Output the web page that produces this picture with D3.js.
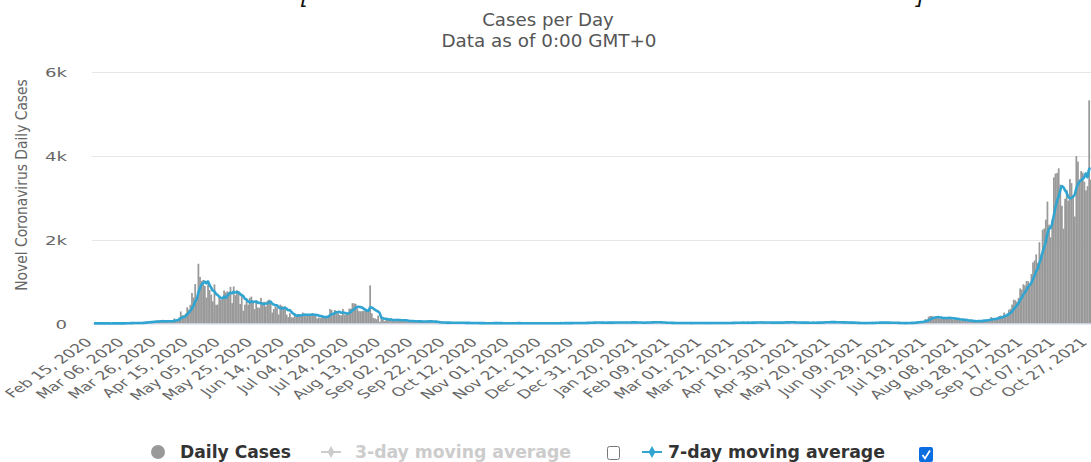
<!DOCTYPE html>
<html>
<head>
<meta charset="utf-8">
<script src="https://cdn.jsdelivr.net/npm/d3@7"></script>
<style>
  html, body { margin: 0; padding: 0; background: #fff; overflow: hidden; }
  svg { display: block; }
  .narrow { font-family: "Liberation Sans Narrow", "DejaVu Sans", sans-serif; font-stretch: condensed; }
</style>
</head>
<body>
<svg id="chart" width="1091" height="462"></svg>
<script>
// first day of the series, one value per day after it
const startDay = "2020-02-15";

const cases2020 = [
  // Feb 15-29
  5, 3, 2, 4, 3, 1, 1, 3, 3, 1, 1, 2, 3, 2, 4,
  // Mar
  4, 2, 2, 2, 7, 13, 8, 12, 16, 6, 12, 9, 13, 12, 14, 17, 23, 47, 32, 40, 47, 23, 54, 49, 73, 52, 49, 70, 42, 35, 47,
  // Apr
  74, 49, 65, 75, 120, 66, 106, 142, 287, 198, 191, 233, 386, 334, 447, 728, 623, 942, 596, 1426, 1111, 1016, 1037, 897, 618, 931, 799, 690, 528, 932,
  // May
  447, 452, 657, 573, 632, 788, 741, 768, 753, 876, 486, 884, 675, 793, 752, 465, 682, 305, 451, 570, 448, 614, 642, 548, 344, 533, 383, 373, 611, 506, 518,
  // Jun
  408, 544, 569, 516, 261, 347, 407, 386, 218, 451, 422, 347, 407, 214, 151, 247, 151, 142, 218, 191, 218, 218, 191, 262, 191, 170, 213, 213, 213, 246,
  // Jul
  215, 185, 119, 144, 126, 183, 157, 179, 183, 191, 347, 322, 214, 322, 281, 248, 202, 195, 348, 211, 215, 240, 354, 354, 485, 481, 469, 359, 296, 290, 295,
  // Aug
  307, 301, 313, 307, 908, 242, 132, 121, 102, 188, 42, 188, 93, 58, 95, 86, 75, 93, 91, 75, 50, 116, 87, 61, 58, 93, 49, 56, 47, 58, 60,
  // Sep
  45, 55, 52, 45, 40, 54, 49, 43, 36, 74, 58, 54, 30, 27, 31, 24, 22, 18, 27, 15, 19, 22, 21, 18, 12, 20, 16, 15, 15, 27,
  // Oct
  21, 10, 9, 3, 19, 10, 10, 11, 12, 10, 6, 9, 9, 7, 8, 5, 4, 6, 13, 8, 12, 9, 4, 13, 6, 3, 7, 3, 2, 8, 6,
  // Nov
  18, 5, 3, 8, 7, 8, 5, 3, 10, 4, 10, 9, 6, 5, 3, 3, 10, 6, 8, 5, 5, 3, 9, 4, 7, 9, 6, 3, 6, 12,
  // Dec
  11, 8, 6, 9, 9, 8, 7, 9, 18, 12, 14, 6, 10, 9, 10, 17, 18, 27, 19, 16, 18, 22, 25, 29, 28, 17, 15, 14, 11, 23, 35
];

const cases2021 = [
  // Jan
  29, 18, 19, 18, 17, 29, 29, 26, 17, 20, 28, 23, 22, 26, 45, 25, 17, 25, 19, 19, 20, 22, 13, 36, 34, 27, 26, 33, 31, 32, 22,
  // Feb
  29, 26, 18, 11, 19, 10, 17, 21, 15, 7, 7, 11, 16, 14, 8, 10, 11, 10, 10, 10, 9, 12, 15, 8, 13, 7, 8, 13,
  // Mar
  10, 10, 12, 10, 10, 11, 17, 10, 17, 18, 12, 10, 11, 13, 14, 11, 24, 12, 14, 24, 16, 17, 23, 20, 24, 19, 10, 28, 15, 16, 27,
  // Apr
  37, 18, 24, 23, 29, 26, 17, 15, 27, 19, 26, 15, 19, 18, 21, 24, 18, 25, 23, 30, 39, 24, 31, 25, 34, 17, 16, 23, 18, 25,
  // May
  17, 25, 21, 16, 17, 16, 19, 29, 19, 20, 27, 14, 21, 24, 52, 38, 32, 30, 27, 30, 25, 41, 32, 24, 21, 23, 16, 33, 27, 14, 18,
  // Jun
  18, 21, 14, 12, 6, 8, 11, 14, 6, 20, 13, 14, 16, 14, 13, 22, 27, 27, 23, 28, 10, 17, 22, 14, 29, 13, 22, 11, 14, 7,
  // Jul
  6, 9, 15, 8, 8, 20, 15, 18, 19, 16, 28, 56, 44, 42, 46, 47, 108, 88, 163, 182, 179, 162, 130, 128, 132, 117, 136, 122, 150, 135, 139,
  // Aug
  133, 110, 98, 98, 95, 116, 97, 66, 93, 71, 69, 54, 43, 80, 62, 47, 45, 56, 59, 68, 65, 92, 89, 64, 94, 97, 153, 113, 133, 94, 156,
  // Sep
  180, 187, 180, 260, 210, 235, 328, 349, 450, 568, 555, 520, 607, 837, 807, 935, 910, 1012, 1009, 917, 1178, 1457, 1504, 1650, 1443, 1939, 1647, 2236, 2268, 2478,
  // Oct 1-28
  2909, 2356, 2057, 2475, 3486, 3577, 3590, 3703, 3310, 2809, 2263, 2976, 3190, 2932, 3445, 3348, 3058, 2553, 3994, 3862, 3439, 3637, 3598, 3383, 3174, 3277, 5324, 3432
];

const tickLabels = [
  "Feb 15, 2020", "Mar 06, 2020", "Mar 26, 2020", "Apr 15, 2020", "May 05, 2020", "May 25, 2020",
  "Jun 14, 2020", "Jul 04, 2020", "Jul 24, 2020", "Aug 13, 2020", "Sep 02, 2020", "Sep 22, 2020",
  "Oct 12, 2020", "Nov 01, 2020", "Nov 21, 2020", "Dec 11, 2020", "Dec 31, 2020", "Jan 20, 2021",
  "Feb 09, 2021", "Mar 01, 2021", "Mar 21, 2021", "Apr 10, 2021", "Apr 30, 2021", "May 20, 2021",
  "Jun 09, 2021", "Jun 29, 2021", "Jul 19, 2021", "Aug 08, 2021", "Aug 28, 2021", "Sep 17, 2021",
  "Oct 07, 2021", "Oct 27, 2021"
];

const yTicks = [0, 2000, 4000, 6000];
const yTickLabels = ["0", "2k", "4k", "6k"];

const legendItems = ["Daily Cases", "3-day moving average", "7-day moving average"];

const barColor = "#999999";
const lineColor = "#31a5d1";

// the picture is wider than it is tall in its text, so glyphs get a horizontal stretch
const stretch = 1.45;

const svg = d3.select("#chart");
const parseDay = d3.timeParse("%Y-%m-%d");
const parseTick = d3.timeParse("%b %d, %Y");
const fmtKey = d3.timeFormat("%Y-%m-%d");

const daily = cases2020.concat(cases2021);
const first = parseDay(startDay);
const days = d3.timeDay.range(first, d3.timeDay.offset(first, daily.length));
const data = days.map((d, i) => ({ date: d, key: fmtKey(d), value: daily[i] }));

// trailing 7-day mean of the daily counts
data.forEach((d, i) => {
  const win = daily.slice(Math.max(0, i - 6), i + 1);
  d.avg7 = d3.mean(win);
});

const plotLeft = 93.2, plotRight = 93.2 + 1.605 * data.length;
const plotTop = 72, plotBottom = 323.5;

const x = d3.scaleBand()
  .domain(data.map(d => d.key))
  .range([plotLeft, plotRight])
  .paddingInner(0)
  .paddingOuter(0);

const y = d3.scaleLinear()
  .domain([0, 6000])
  .range([plotBottom, plotTop]);

// top clipped fragments of text above the chart
svg.append("text").attr("x", 300).attr("y", 4)
  .style("font-family", "DejaVu Sans").style("font-style", "italic").style("font-size", "22px")
  .attr("fill", "#111").text("[");
svg.append("text").attr("x", 916).attr("y", 4)
  .style("font-family", "DejaVu Sans").style("font-style", "italic").style("font-size", "22px")
  .attr("fill", "#111").text("]");

// titles
svg.append("text")
  .attr("class", "narrow")
  .attr("transform", "translate(548, 26) scale(1.19, 1)")
  .attr("text-anchor", "middle")
  .style("font-size", "17px")
  .attr("fill", "#555")
  .text("Cases per Day");

svg.append("text")
  .attr("class", "narrow")
  .attr("transform", "translate(549, 47) scale(1.2, 1)")
  .attr("text-anchor", "middle")
  .style("font-size", "17px")
  .attr("fill", "#555")
  .text("Data as of 0:00 GMT+0");

// grid
svg.append("g")
  .selectAll("line")
  .data(yTicks.filter(t => t > 0))
  .enter().append("line")
  .attr("x1", plotLeft - 1).attr("x2", 1091)
  .attr("y1", d => Math.round(y(d)) + 0.5).attr("y2", d => Math.round(y(d)) + 0.5)
  .attr("stroke", "#e6e6e6").attr("stroke-width", 1);

// y labels
svg.append("g")
  .selectAll("text")
  .data(yTicks)
  .enter().append("text")
  .attr("transform", d => `translate(67, ${y(d) + 5}) scale(${stretch}, 1)`)
  .attr("text-anchor", "end")
  .style("font-family", "DejaVu Sans")
  .style("font-size", "12.5px")
  .attr("fill", "#666")
  .text((d, i) => yTickLabels[i]);

svg.append("text")
  .attr("transform", `translate(27, 185) scale(1.08, 1) rotate(-90)`)
  .attr("text-anchor", "middle")
  .style("font-family", "DejaVu Sans")
  .style("font-size", "15.4px")
  .style("font-stretch", "condensed")
  .attr("fill", "#666")
  .text("Novel Coronavirus Daily Cases");

// bars
svg.append("g")
  .selectAll("rect")
  .data(data)
  .enter().append("rect")
  .attr("x", d => x(d.key))
  .attr("width", x.bandwidth() + 0.15)
  .attr("y", d => y(d.value))
  .attr("height", d => plotBottom - y(d.value))
  .attr("fill", barColor);

// axis line
svg.append("line")
  .attr("x1", plotLeft - 1).attr("x2", 1091)
  .attr("y1", 324).attr("y2", 324)
  .attr("stroke", "#ccd6eb").attr("stroke-width", 1.2);

// 7-day average line
const line = d3.line()
  .x(d => x(d.key) + x.bandwidth() / 2)
  .y(d => y(d.avg7))
  .curve(d3.curveMonotoneX);

svg.append("path")
  .datum(data)
  .attr("d", line)
  .attr("fill", "none")
  .attr("stroke", lineColor)
  .attr("stroke-width", 2.6)
  .attr("stroke-linejoin", "round");

// x labels
svg.append("g")
  .selectAll("text")
  .data(tickLabels)
  .enter().append("text")
  .attr("transform", d => {
    const k = fmtKey(parseTick(d));
    const tx = x(k) + x.bandwidth() / 2;
    return `translate(${tx - 1}, 343) scale(${stretch}, 1) rotate(-45)`;
  })
  .attr("text-anchor", "end")
  .style("font-family", "DejaVu Sans")
  .style("font-size", "12px")
  .attr("fill", "#666")
  .text(d => d);

// legend
const lg = svg.append("g").attr("class", "narrow");
const ly = 452;

lg.append("circle").attr("cx", 158).attr("cy", ly).attr("r", 7).attr("fill", barColor);
lg.append("text").attr("transform", `translate(180, ${ly + 6}) scale(1.06, 1)`)
  .style("font-size", "18px").style("font-weight", "bold").attr("fill", "#333")
  .text(legendItems[0]);

lg.append("line").attr("x1", 321).attr("x2", 341).attr("y1", ly).attr("y2", ly)
  .attr("stroke", "#cccccc").attr("stroke-width", 2);
lg.append("path").attr("d", d3.symbol(d3.symbolDiamond, 40)())
  .attr("transform", `translate(331, ${ly})`).attr("fill", "#cccccc");
lg.append("text").attr("transform", `translate(355, ${ly + 6}) scale(1.065, 1)`)
  .style("font-size", "18px").style("font-weight", "bold").attr("fill", "#cccccc")
  .text(legendItems[1]);

lg.append("rect").attr("x", 607.5).attr("y", 446.5).attr("width", 12).attr("height", 13).attr("rx", 2)
  .attr("fill", "#fff").attr("stroke", "#767676").attr("stroke-width", 1);

lg.append("line").attr("x1", 642).attr("x2", 662).attr("y1", ly).attr("y2", ly)
  .attr("stroke", lineColor).attr("stroke-width", 2);
lg.append("path").attr("d", d3.symbol(d3.symbolDiamond, 40)())
  .attr("transform", `translate(652, ${ly})`).attr("fill", lineColor);
lg.append("text").attr("transform", `translate(668, ${ly + 6}) scale(1.07, 1)`)
  .style("font-size", "18px").style("font-weight", "bold").attr("fill", "#333")
  .text(legendItems[2]);

lg.append("rect").attr("x", 919).attr("y", 447).attr("width", 14).attr("height", 15).attr("rx", 2)
  .attr("fill", "#0a6ee0");
lg.append("path").attr("d", "M922.5,455 L925,458.5 L930,450.5")
  .attr("fill", "none").attr("stroke", "#fff").attr("stroke-width", 1.8);
</script>
</body>
</html>
